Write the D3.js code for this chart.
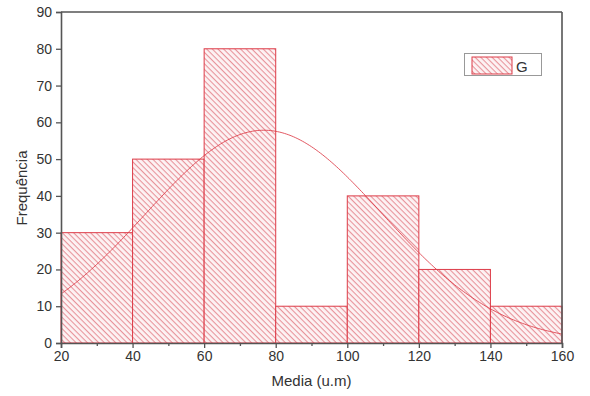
<!DOCTYPE html>
<html>
<head>
<meta charset="utf-8">
<script src="https://cdn.jsdelivr.net/npm/d3@7"></script>
<style>
  html, body { margin: 0; padding: 0; background: #fff; }
  svg { display: block; font-family: "Liberation Sans", Arial, Helvetica, sans-serif; }
</style>
</head>
<body>
<svg id="chart" width="590" height="396"></svg>
<script>
// Histogram bins (lower edge, upper edge) and their counts
const binStarts = [20, 40, 60, 80, 100, 120, 140];
const binEnds   = [40, 60, 80, 100, 120, 140, 160];
const counts    = [30, 50, 80, 10, 40, 20, 10];

// Axis ticks
const xTicks = [20, 40, 60, 80, 100, 120, 140, 160];
const xMinorTicks = [30, 50, 70, 90, 110, 130, 150];
const yTicks = [0, 10, 20, 30, 40, 50, 60, 70, 80, 90];

// Normal fit overlaid on the histogram
const fitMean = 76.7;
const fitSd = 33.1;
const fitTotal = 240;
const fitBinWidth = 20;

const seriesName = "G";
const xTitle = "Media (u.m)";
const yTitle = "Frequência";

const svg = d3.select("#chart");
const margin = { left: 61, right: 28, top: 12, bottom: 53 };
const W = 590, H = 396;

const x = d3.scaleLinear().domain([20, 160]).range([margin.left, W - margin.right]);
const y = d3.scaleLinear().domain([0, 90]).range([H - margin.bottom, margin.top]);

const red = "#dd3c48";
const axisColor = "#555";
const textColor = "#333";

// Diagonal hatch pattern for the bars (lines running top-left to bottom-right)
const defs = svg.append("defs");
const pat = defs.append("pattern")
  .attr("id", "hatch")
  .attr("patternUnits", "userSpaceOnUse")
  .attr("width", 4).attr("height", 4)
  .attr("patternTransform", "rotate(45)");
pat.append("rect").attr("width", 4).attr("height", 4).attr("fill", "#fdf3f4");
pat.append("line")
  .attr("x1", 0).attr("y1", 0).attr("x2", 4).attr("y2", 0)
  .attr("stroke", "#e8949b").attr("stroke-width", 2.2);

const bins = binStarts.map((s, i) => ({ x0: s, x1: binEnds[i], n: counts[i] }));

// Bars
svg.append("g").selectAll("rect").data(bins).join("rect")
  .attr("x", d => x(d.x0))
  .attr("y", d => y(d.n))
  .attr("width", d => x(d.x1) - x(d.x0))
  .attr("height", d => y(0) - y(d.n))
  .attr("fill", "url(#hatch)")
  .attr("stroke", red)
  .attr("stroke-width", 1);

// Normal distribution curve
const amp = fitTotal * fitBinWidth / (fitSd * Math.sqrt(2 * Math.PI));
const curveXs = d3.range(20, 160.01, 0.5);
const line = d3.line()
  .x(v => x(v))
  .y(v => y(amp * Math.exp(-((v - fitMean) ** 2) / (2 * fitSd * fitSd))))
  .curve(d3.curveLinear);
svg.append("path")
  .datum(curveXs)
  .attr("d", line)
  .attr("fill", "none")
  .attr("stroke", red)
  .attr("stroke-width", 1)
  .attr("stroke-opacity", 0.85);

// Axes
svg.append("g")
  .attr("transform", `translate(0,${y(0)})`)
  .call(d3.axisBottom(x).tickValues(xTicks).tickSize(5).tickPadding(3).tickFormat(d3.format("d")));
svg.append("g")
  .attr("transform", `translate(0,${y(0)})`)
  .call(d3.axisBottom(x).tickValues(xMinorTicks).tickSize(3).tickFormat(""))
  .call(g => g.select(".domain").remove());

svg.append("g")
  .attr("transform", `translate(${x(20)},0)`)
  .call(d3.axisLeft(y).tickValues(yTicks).tickSize(5).tickPadding(4).tickFormat(d3.format("d")));

// Frame: top and right edges
const frame = svg.append("g");
frame.append("line")
  .attr("x1", x(20)).attr("x2", x(160)).attr("y1", y(90)).attr("y2", y(90));
frame.append("line")
  .attr("x1", x(160)).attr("x2", x(160)).attr("y1", y(90)).attr("y2", y(0));
frame.selectAll("line").attr("stroke", axisColor).attr("stroke-width", 1.6);

svg.selectAll(".domain").attr("stroke", axisColor).attr("stroke-width", 1.6);
svg.selectAll(".tick line").attr("stroke", axisColor).attr("stroke-width", 1.3);
svg.selectAll(".tick text")
  .attr("fill", textColor)
  .style("font-size", "14px")
  .style("font-family", "'Liberation Sans', Arial, sans-serif");

// Axis titles
svg.append("text")
  .attr("x", (x(20) + x(160)) / 2)
  .attr("y", 386)
  .attr("text-anchor", "middle")
  .attr("fill", textColor)
  .style("font-size", "15px")
  .text(xTitle);

svg.append("text")
  .attr("transform", `translate(27,188) rotate(-90)`)
  .attr("text-anchor", "middle")
  .attr("fill", textColor)
  .style("font-size", "15px")
  .text(yTitle);

// Legend
const lg = svg.append("g");
lg.append("rect")
  .attr("x", 464.5).attr("y", 53.5).attr("width", 77).attr("height", 22)
  .attr("fill", "#fff").attr("stroke", "#999").attr("stroke-width", 1);
lg.append("rect")
  .attr("x", 472).attr("y", 57).attr("width", 40).attr("height", 17)
  .attr("fill", "url(#hatch)").attr("stroke", red).attr("stroke-width", 1);
lg.append("text")
  .attr("x", 516).attr("y", 71.5)
  .attr("fill", textColor)
  .style("font-size", "15px")
  .text(seriesName);
</script>
</body>
</html>
